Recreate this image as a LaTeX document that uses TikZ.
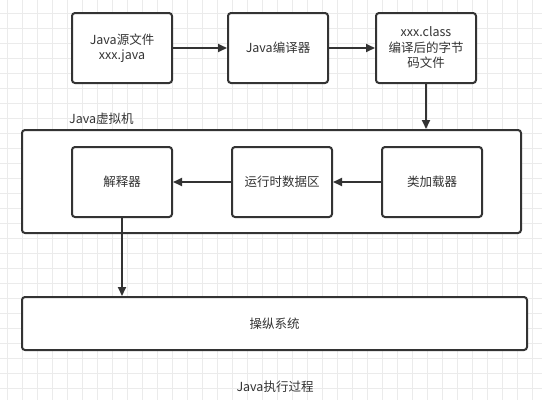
\documentclass[tikz,border=0pt]{standalone}
\usepackage{fontspec}
\setmainfont{Noto Sans CJK SC}
\usetikzlibrary{arrows.meta}
\definecolor{ink}{HTML}{333333}
\definecolor{gridc}{HTML}{EBEBEB}
\tikzset{
  box/.style={draw=ink, line width=2pt, rounded corners=3pt, fill=white, align=center, font=\fontsize{12.5}{15.5}\selectfont, text=ink, inner sep=0pt},
  conn/.style={draw=ink, line width=2pt, -{Triangle[length=9pt,width=8pt]}},
  lbl/.style={font=\fontsize{12.5}{15.5}\selectfont, text=ink, inner sep=0pt}
}
\begin{document}
\begin{tikzpicture}[x=1pt,y=-1pt]
\useasboundingbox (0,0) rectangle (542,400);
\fill[white] (0,0) rectangle (542,400);
\foreach \i in {0,...,35} {\draw[gridc, line width=1pt] (7+15*\i,0) -- (7+15*\i,400);}
\foreach \j in {0,...,26} {\draw[gridc, line width=1pt] (0,13+15*\j-15) -- (542,13+15*\j-15);}
% top row
\node[box, minimum width=100pt, minimum height=70pt] (src) at (122,48) {Java源文件\\xxx.java};
\node[box, minimum width=100pt, minimum height=70pt] (comp) at (278,48) {Java编译器};
\node[box, minimum width=100pt, minimum height=70pt] (cls) at (426,48) {xxx.class\\编译后的字节\\码文件};
% JVM
\node[box, minimum width=499pt, minimum height=103pt] (jvm) at (271.5,181.5) {};
\node[lbl, anchor=west] (jvmlbl) at (69,119) {Java虚拟机};
\node[box, minimum width=100pt, minimum height=70pt] (interp) at (122,182) {解释器};
\node[box, minimum width=100pt, minimum height=70pt] (rtd) at (282,182) {运行时数据区};
\node[box, minimum width=100pt, minimum height=70pt] (loader) at (432,182) {类加载器};
% OS
\node[box, minimum width=505pt, minimum height=53pt] (os) at (274.5,323.5) {操纵系统};
\node[lbl] (title) at (275,387) {Java执行过程};
% connectors
\draw[conn] (src) -- (comp);
\draw[conn] (comp) -- (cls);
\draw[conn] (cls.south) -- (cls.south |- jvm.north);
\draw[conn] (loader) -- (rtd);
\draw[conn] (rtd) -- (interp);
\draw[conn] (interp.south) -- (interp.south |- os.north);
\end{tikzpicture}
\end{document}
